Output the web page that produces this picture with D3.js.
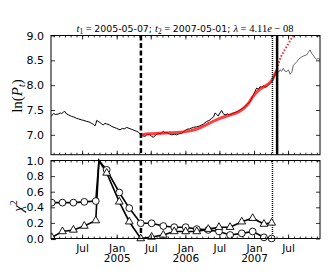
<!DOCTYPE html>
<html><head><meta charset="utf-8">
<script src="https://cdn.jsdelivr.net/npm/d3@7"></script>
<style>
html,body{margin:0;padding:0;background:#fff;}
svg{display:block;}
</style>
</head><body>
<svg id="c" width="332" height="277"></svg>
<script>
// ---------- data ----------
const priceDates = ["2004-01-15","2004-01-22","2004-01-29","2004-02-08","2004-02-23","2004-03-05","2004-03-12","2004-03-22","2004-03-29","2004-04-07","2004-04-18","2004-05-04","2004-05-15","2004-05-31","2004-06-10","2004-06-26","2004-07-08","2004-07-23","2004-08-04","2004-08-18","2004-08-28","2004-09-05","2004-09-10","2004-09-14","2004-09-22","2004-10-01","2004-10-10","2004-10-19","2004-10-28","2004-11-06","2004-11-20","2004-12-03","2004-12-15","2004-12-29","2005-01-16","2005-01-28","2005-02-08","2005-02-20","2005-03-05","2005-03-19","2005-04-01","2005-04-15","2005-04-25","2005-05-06","2005-05-15","2005-05-29","2005-06-10","2005-06-24","2005-07-03","2005-07-12","2005-07-25","2005-08-07","2005-08-20","2005-09-03","2005-09-12","2005-09-21","2005-10-05","2005-10-18","2005-11-01","2005-11-13","2005-11-25","2005-12-10","2005-12-22","2006-01-05","2006-01-20","2006-02-10","2006-02-25","2006-03-17","2006-04-05","2006-04-22","2006-05-05","2006-05-18","2006-05-28","2006-06-05","2006-06-14","2006-06-22","2006-07-01","2006-07-10","2006-07-18","2006-07-28","2006-08-10","2006-08-24","2006-09-05","2006-09-19","2006-10-02","2006-10-16","2006-10-30","2006-11-11","2006-11-25","2006-12-08","2006-12-17","2006-12-25","2007-01-04","2007-01-12","2007-01-22","2007-01-30","2007-02-08","2007-02-17","2007-02-26","2007-03-07","2007-03-15","2007-03-24","2007-04-02","2007-04-11","2007-04-20","2007-04-29"];
const priceValues = [7.37,7.40,7.43,7.41,7.42,7.44,7.43,7.46,7.47,7.42,7.40,7.37,7.36,7.33,7.32,7.30,7.29,7.27,7.26,7.23,7.21,7.18,7.23,7.29,7.27,7.25,7.22,7.20,7.23,7.22,7.20,7.17,7.15,7.13,7.10,7.13,7.12,7.15,7.13,7.11,7.09,7.07,7.05,7.00,6.98,6.97,7.01,7.00,6.97,6.95,7.00,7.03,7.02,7.07,7.04,7.05,7.02,7.00,7.01,7.00,7.02,7.03,7.07,7.11,7.12,7.15,7.16,7.18,7.22,7.27,7.29,7.33,7.36,7.44,7.41,7.38,7.44,7.49,7.43,7.40,7.42,7.40,7.43,7.45,7.47,7.50,7.53,7.57,7.62,7.67,7.74,7.80,7.88,7.94,7.92,7.97,7.96,7.98,7.96,7.97,8.00,8.03,8.06,8.14,8.22,8.32];

const afterDates = ["2007-04-29","2007-05-09","2007-05-17","2007-05-25","2007-06-03","2007-06-12","2007-06-21","2007-06-30","2007-07-09","2007-07-18","2007-07-26","2007-08-04","2007-08-13","2007-08-25","2007-09-09","2007-09-20","2007-10-05","2007-10-14","2007-10-23","2007-11-01","2007-11-10","2007-11-20","2007-11-27","2007-12-06","2007-12-14"];
const afterValues = [8.32,8.26,8.31,8.28,8.34,8.28,8.27,8.31,8.22,8.26,8.40,8.43,8.47,8.53,8.57,8.59,8.61,8.66,8.71,8.64,8.60,8.54,8.52,8.54,8.52];

const fitDates = ["2005-05-07","2005-06-24","2005-08-17","2005-10-09","2005-12-01","2006-01-23","2006-03-17","2006-05-09","2006-07-01","2006-08-24","2006-10-16","2006-11-27","2006-12-25","2007-01-30","2007-03-01","2007-03-29","2007-04-20","2007-05-01"];
const fitValues = [7.00,7.02,7.03,7.04,7.05,7.08,7.14,7.24,7.33,7.40,7.48,7.62,7.78,7.92,7.99,8.07,8.22,8.32];

const predDates = ["2007-05-01","2007-05-10","2007-05-20","2007-06-01","2007-06-15","2007-07-01","2007-07-15","2007-07-28","2007-08-10"];
const predValues = [8.32,8.45,8.56,8.65,8.74,8.84,8.93,9.00,9.08];

const chiDates = ["2004-01-19","2004-03-16","2004-05-13","2004-07-10","2004-09-09","2004-09-26","2004-11-06","2005-01-12","2005-03-06","2005-05-06","2005-07-03","2005-09-03","2005-10-31","2005-12-31","2006-02-28","2006-04-30","2006-06-26","2006-08-24","2006-10-25","2006-12-22","2007-02-20","2007-04-02"];
const chiCircle = [0.46,0.46,0.46,0.47,0.48,1.00,0.88,0.59,0.39,0.195,0.195,0.16,0.145,0.145,0.12,0.11,0.09,0.045,0.066,0.09,0.015,0.0];
const chiTriangle = [0.015,0.09,0.11,0.16,0.23,1.00,0.84,0.47,0.215,0.0,0.02,0.045,0.09,0.09,0.09,0.12,0.145,0.145,0.215,0.26,0.185,0.20];

const t1Date = "2005-05-07";
const dotDate = "2007-04-02";
const t2Date = "2007-05-01";

const yTopTicks = [7.0,7.5,8.0,8.5,9.0];
const yBotTicks = [0.0,0.2,0.4,0.6,0.8,1.0];
const xMajorTicks = ["2004-07-01","2005-01-01","2005-07-01","2006-01-01","2006-07-01","2007-01-01","2007-07-01"];
const xMajorLabels = [["Jul"],["Jan","2005"],["Jul"],["Jan","2006"],["Jul"],["Jan","2007"],["Jul"]];

// ---------- drawing ----------
const parse = d3.timeParse("%Y-%m-%d");
const svg = d3.select("#c");
const L = 51, R = 320;
const topY0 = 35.5, topY1 = 154.7, botY0 = 160.5, botY1 = 238.5;

const x = d3.scaleTime().domain([parse("2004-01-15"), parse("2007-12-15")]).range([L, R]);
const yT = d3.scaleLinear().domain([6.6, 9.0]).range([topY1, topY0]);
const yB = d3.scaleLinear().domain([0, 1]).range([botY1, botY0]);

const defs = svg.append("defs");
defs.append("clipPath").attr("id","clipT").append("rect").attr("x",L).attr("y",topY0).attr("width",R-L).attr("height",topY1-topY0);
defs.append("clipPath").attr("id","clipB").append("rect").attr("x",L).attr("y",botY0-4).attr("width",R-L).attr("height",botY1-botY0+8);

const zip = (ds, vs) => ds.map((d,i)=>({t:parse(d), v:vs[i]}));

// top panel
const gT = svg.append("g").attr("clip-path","url(#clipT)");
const lineT = d3.line().x(d=>x(d.t)).y(d=>yT(d.v));
gT.append("path").datum(zip(priceDates,priceValues)).attr("d",lineT).attr("fill","none").attr("stroke","#000").attr("stroke-width",1);
gT.append("path").datum(zip(afterDates,afterValues)).attr("d",lineT).attr("fill","none").attr("stroke","#444").attr("stroke-width",0.8);
gT.append("path").datum(zip(fitDates,fitValues)).attr("d",lineT.curve(d3.curveMonotoneX)).attr("fill","none").attr("stroke","red").attr("stroke-opacity",0.75).attr("stroke-width",3);
gT.append("path").datum(zip(predDates,predValues)).attr("d",lineT.curve(d3.curveMonotoneX)).attr("fill","none").attr("stroke","red").attr("stroke-opacity",0.85).attr("stroke-width",2).attr("stroke-dasharray","1.5,1.8");

// vertical lines
const snap = v => Math.round(v) + 0.5;
const xt1 = x(parse(t1Date)), xdot = snap(x(parse(dotDate))), xt2 = x(parse(t2Date));
[[topY0,topY1],[botY0,botY1]].forEach(([a,b])=>{
  svg.append("line").attr("x1",xt1).attr("x2",xt1).attr("y1",a).attr("y2",b).attr("stroke","#000").attr("stroke-width",2.5).attr("stroke-dasharray","5,2.5");
  svg.append("line").attr("x1",xdot).attr("x2",xdot).attr("y1",Math.round(a)).attr("y2",b).attr("stroke","#000").attr("stroke-width",1.4).attr("stroke-dasharray","1,1");
});
svg.append("line").attr("x1",xt2).attr("x2",xt2).attr("y1",topY0).attr("y2",topY1).attr("stroke","#000").attr("stroke-width",2.5);

// bottom panel
const gB = svg.append("g").attr("clip-path","url(#clipB)");
const lineB = d3.line().x(d=>x(d.t)).y(d=>yB(d.v));
const cData = zip(chiDates, chiCircle), tData = zip(chiDates, chiTriangle);
gB.append("path").datum(tData).attr("d",lineB).attr("fill","none").attr("stroke","#000").attr("stroke-width",1.6);
gB.append("path").datum(cData).attr("d",lineB).attr("fill","none").attr("stroke","#000").attr("stroke-width",1.6);
gB.selectAll("circle.m").data(cData.filter(d=>d.v<0.99)).join("circle").attr("cx",d=>x(d.t)).attr("cy",d=>yB(d.v)).attr("r",3.4).attr("fill","#fff").attr("stroke","#000").attr("stroke-width",0.9);
const tri = d3.symbol().type(d3.symbolTriangle).size(26);
gB.selectAll("path.tri").data(tData.filter(d=>d.v<0.99)).join("path").attr("class","tri").attr("transform",d=>`translate(${x(d.t)},${yB(d.v)})`).attr("d",tri).attr("fill","#fff").attr("stroke","#000").attr("stroke-width",0.9);

// axes
const months = d3.timeMonth.range(parse("2004-02-01"), parse("2007-12-15"));
const majors = xMajorTicks.map(parse);
function xTicks(yPos, dir){
  const g = svg.append("g");
  g.selectAll("line.mi").data(months).join("line").attr("x1",d=>x(d)).attr("x2",d=>x(d)).attr("y1",yPos).attr("y2",yPos+dir*2).attr("stroke","#000").attr("stroke-width",0.8);
  g.selectAll("line.ma").data(majors).join("line").attr("x1",d=>x(d)).attr("x2",d=>x(d)).attr("y1",yPos).attr("y2",yPos+dir*4).attr("stroke","#000").attr("stroke-width",0.8);
}
xTicks(topY0, 1); xTicks(topY1, -1); xTicks(botY0, 1); xTicks(botY1, -1);

function yAxis(scale, ticks, fmt){
  const gl = svg.append("g").attr("transform",`translate(${L},0)`).call(d3.axisLeft(scale).tickValues(ticks).tickSize(-4).tickPadding(7).tickFormat(fmt));
  const gr = svg.append("g").attr("transform",`translate(${R},0)`).call(d3.axisRight(scale).tickValues(ticks).tickSize(-4).tickFormat(""));
  [gl,gr].forEach(g=>{g.select(".domain").remove(); g.selectAll("line").attr("stroke","#000").attr("stroke-width",0.8);});
  gl.selectAll("text").attr("font-family","DejaVu Sans").attr("font-size",11).attr("fill","#000");
}
yAxis(yT, yTopTicks, d3.format(".1f"));
yAxis(yB, yBotTicks, d3.format(".1f"));

// frames
svg.append("rect").attr("x",L).attr("y",topY0).attr("width",R-L).attr("height",topY1-topY0).attr("fill","none").attr("stroke","#000").attr("stroke-width",1);
svg.append("rect").attr("x",L).attr("y",botY0).attr("width",R-L).attr("height",botY1-botY0).attr("fill","none").attr("stroke","#000").attr("stroke-width",1);

// x labels
const xl = svg.append("g").attr("font-family","DejaVu Sans").attr("font-size",10.5).attr("text-anchor","middle");
majors.forEach((d,i)=>{
  const t = xl.append("text").attr("x",x(d)).attr("y",251.5);
  xMajorLabels[i].forEach((s,j)=>t.append("tspan").attr("x",x(d)).attr("dy",j===0?0:10.5).text(s));
});

// y titles
const yt1 = svg.append("text").attr("transform","translate(22,96) rotate(-90)").attr("text-anchor","middle").attr("font-family","Liberation Serif").attr("font-size",15);
yt1.append("tspan").text("ln(");
yt1.append("tspan").attr("font-style","italic").text("P");
yt1.append("tspan").attr("font-style","italic").attr("font-size",10).attr("dy",3).text("t");
yt1.append("tspan").attr("dy",-3).text(")");
const yt2 = svg.append("text").attr("transform","translate(23,206) rotate(-90)").attr("text-anchor","middle").attr("font-family","Liberation Serif").attr("font-size",15);
yt2.append("tspan").attr("font-style","italic").text("χ");
yt2.append("tspan").attr("font-size",10).attr("dy",-6).text("2");

// title
const ti = svg.append("text").attr("x",185).attr("y",32).attr("text-anchor","middle").attr("font-size",9.4).attr("font-family","DejaVu Sans");
const ser = (s, it, extra) => { const sp = ti.append("tspan").attr("font-family","Liberation Serif").attr("font-size",10.5).text(s); if(it) sp.attr("font-style","italic"); if(extra) extra(sp); return sp; };
ser("t", true);
ser("1", false, sp=>sp.attr("font-size",7.5).attr("dy",2));
ser(" = ", false, sp=>sp.attr("dy",-2));
ti.append("tspan").text("2005-05-07; ");
ser("t", true);
ser("2", false, sp=>sp.attr("font-size",7.5).attr("dy",2));
ser(" =  ", false, sp=>sp.attr("dy",-2));
ti.append("tspan").text("2007-05-01; ");
ser("λ", true);
ser(" = 4.11", false);
ser("e", true);
ser(" − 08", false);
</script>
</body></html>
